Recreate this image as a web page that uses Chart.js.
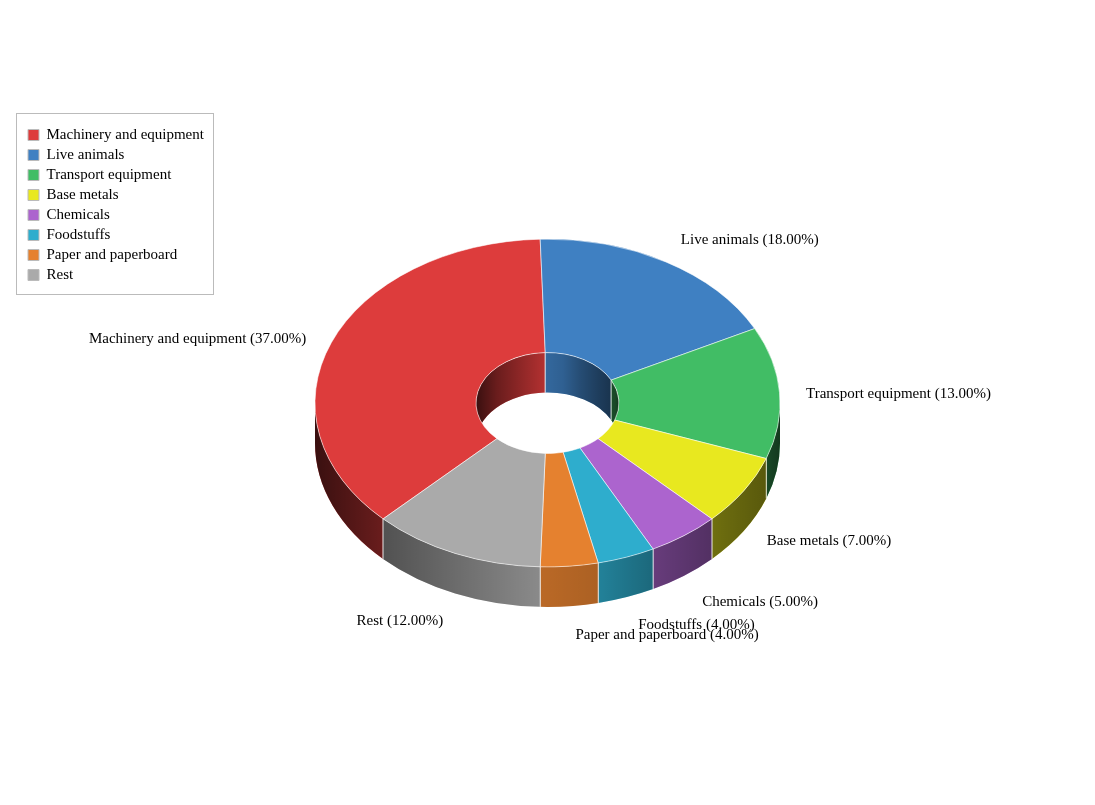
<!DOCTYPE html>
<html>
<head>
<meta charset="utf-8">
<title>Donut chart</title>
<script src="https://cdn.jsdelivr.net/npm/chart.js@4"></script>
<style>
    html, body { margin: 0; padding: 0; background: #fff; }
    canvas { display: block; }
</style>
</head>
<body>
<canvas id="chart" width="1095" height="805"></canvas>
<script>
const categories = ["Machinery and equipment", "Live animals", "Transport equipment", "Base metals",
    "Chemicals", "Foodstuffs", "Paper and paperboard", "Rest"];
const shares = [37, 18, 13, 7, 5, 4, 4, 12];
const sliceColors = ["#dd3c3c", "#3f80c2", "#41bd65", "#e8e81f", "#ac64ce", "#2eadcd", "#e5812f", "#aaaaaa"];

// 3d look of the ring
const ring = { cx: 547.5, cy: 403, rx: 232.5, inner: 71.5, tilt: 0.705, depth: 40 };
const edgeColor = "rgba(255,255,255,0.65)";
const fontFamily = "'Liberation Serif', 'Times New Roman', serif";

// label offsets from the rim point of each slice: [dx, dy, align]
const labelOffsets = [[-25, -4, "right"], [15, -22, "left"], [26.5, 1, "left"], [23, 50, "left"],
    [18, 66, "left"], [12, 68, "left"], [6, 69, "left"], [-12, 68, "right"]];

// how much light the side walls get, left to right
const lightStops = [[0, .26], [.146, .48], [.484, .81], [.609, .75], [.727, .6], [.854, .48], [.972, .38], [1, .3]];

function shadeGradient(ctx, left, right) {
    const g = ctx.createLinearGradient(left, 0, right, 0);
    lightStops.forEach(s => g.addColorStop(s[0], `rgba(0,0,0,${1 - s[1]})`));
    return g;
}

// parts of [a0, a1] inside the half turn that starts at base
function visibleParts(a0, a1, base) {
    const parts = [];
    for (let k = -2; k <= 2; k++) {
        const lo = Math.max(a0, base + 2 * Math.PI * k);
        const hi = Math.min(a1, base + Math.PI + 2 * Math.PI * k);
        if (hi > lo) parts.push([lo, hi]);
    }
    return parts;
}

function drawWall(ctx, radius, part, color, shade, a0, a1) {
    const ry = radius * ring.tilt;
    const path = new Path2D();
    path.ellipse(ring.cx, ring.cy, radius, ry, 0, part[0], part[1]);
    path.ellipse(ring.cx, ring.cy + ring.depth, radius, ry, 0, part[1], part[0], true);
    path.closePath();
    ctx.fillStyle = color;
    ctx.fill(path);
    ctx.fillStyle = shade;
    ctx.fill(path);
    ctx.strokeStyle = edgeColor;
    ctx.lineWidth = 1;
    [[part[0], a0], [part[1], a1]].forEach(p => {
        if (Math.abs(p[0] - p[1]) > 1e-6) return;
        const x = ring.cx + radius * Math.cos(p[0]);
        const y = ring.cy + ry * Math.sin(p[0]);
        ctx.beginPath();
        ctx.moveTo(x, y);
        ctx.lineTo(x, y + ring.depth);
        ctx.stroke();
    });
}

const ring3d = {
    id: "ring3d",
    afterLayout(chart) {
        // the legend floats top left, it does not sit in a layout column
        const lg = chart.legend;
        const w = lg.width, h = lg.height;
        lg.left = 23;
        lg.top = 122.5;
        lg.right = lg.left + w;
        lg.bottom = lg.top + h;
    },
    beforeDraw(chart) {
        const ctx = chart.ctx;
        ctx.save();
        ctx.strokeStyle = "#bbbbbb";
        ctx.lineWidth = 1;
        ctx.strokeRect(16.5, 113.5, 197, 181);
        ctx.restore();
    },
    beforeDatasetsDraw(chart) {
        const ctx = chart.ctx;
        const arcs = chart.getDatasetMeta(0).data;
        const outerShade = shadeGradient(ctx, ring.cx - ring.rx, ring.cx + ring.rx);
        const innerShade = shadeGradient(ctx, ring.cx - ring.inner, ring.cx + ring.inner);

        ctx.save();
        arcs.forEach((arc, i) => {
            visibleParts(arc.startAngle, arc.endAngle, 0).forEach(part =>
                drawWall(ctx, ring.rx, part, sliceColors[i], outerShade, arc.startAngle, arc.endAngle));
        });
        ctx.restore();

        // inner wall only shows through the hole
        ctx.save();
        ctx.beginPath();
        ctx.ellipse(ring.cx, ring.cy, ring.inner, ring.inner * ring.tilt, 0, 0, Math.PI * 2);
        ctx.clip();
        arcs.forEach((arc, i) => {
            visibleParts(arc.startAngle, arc.endAngle, Math.PI).forEach(part =>
                drawWall(ctx, ring.inner, part, sliceColors[i], innerShade, arc.startAngle, arc.endAngle));
        });
        ctx.restore();

        // squash the flat doughnut into the tilted top face
        ctx.save();
        ctx.translate(ring.cx, ring.cy);
        ctx.scale(1, ring.tilt);
        ctx.translate(-arcs[0].x, -arcs[0].y);
    },
    afterDatasetsDraw(chart) {
        const ctx = chart.ctx;
        ctx.restore();

        ctx.save();
        ctx.font = "15px " + fontFamily;
        ctx.fillStyle = "#000";
        ctx.textBaseline = "middle";
        chart.getDatasetMeta(0).data.forEach((arc, i) => {
            const mid = (arc.startAngle + arc.endAngle) / 2;
            const x = ring.cx + ring.rx * Math.cos(mid);
            const y = ring.cy + ring.rx * ring.tilt * Math.sin(mid);
            const off = labelOffsets[i];
            ctx.textAlign = off[2];
            ctx.fillText(`${categories[i]} (${shares[i].toFixed(2)}%)`, x + off[0], y + off[1]);
        });
        ctx.restore();
    },
};

new Chart(document.getElementById("chart"), {
    type: "doughnut",
    data: {
        labels: categories,
        datasets: [{
            data: shares,
            backgroundColor: sliceColors,
            borderColor: edgeColor,
            borderWidth: 1,
            clip: false,
        }],
    },
    options: {
        responsive: false,
        animation: false,
        devicePixelRatio: 1,
        rotation: -135,
        radius: ring.rx,
        cutout: (ring.inner / ring.rx * 100) + "%",
        plugins: {
            tooltip: { enabled: false },
            legend: {
                display: true,
                position: "left",
                align: "start",
                labels: {
                    color: "#000",
                    boxWidth: 11,
                    boxHeight: 11,
                    padding: 5,
                    font: { family: fontFamily, size: 15 },
                    generateLabels(chart) {
                        return Chart.overrides.doughnut.plugins.legend.labels.generateLabels(chart)
                            .map(item => ({ ...item, strokeStyle: "#bbbbbb", lineWidth: 1 }));
                    },
                },
            },
        },
    },
    plugins: [ring3d],
});
</script>
</body>
</html>
